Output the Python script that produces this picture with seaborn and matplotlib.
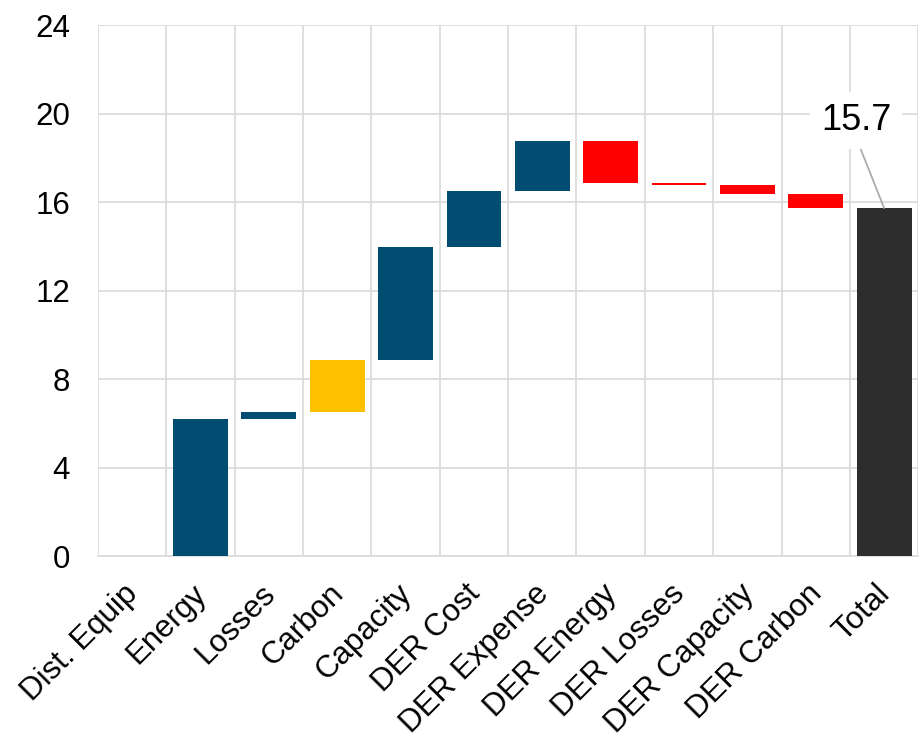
import numpy as np
import pandas as pd
import matplotlib
matplotlib.use("Agg")
import matplotlib.pyplot as plt
import matplotlib.transforms as mtransforms
import seaborn as sns

# waterfall steps
categories = ["Dist. Equip", "Energy", "Losses", "Carbon", "Capacity", "DER Cost",
              "DER Expense", "DER Energy", "DER Losses", "DER Capacity", "DER Carbon", "Total"]
deltas = [0.0, 6.2, 0.33, 2.33, 5.1, 2.52, 2.3, -1.9, -0.1, -0.4, -0.66]
bar_colors = ["#004d71", "#004d71", "#004d71", "#ffc000", "#004d71", "#004d71",
              "#004d71", "#ff0000", "#ff0000", "#ff0000", "#ff0000", "#2d2d2d"]
yticks = [0, 4, 8, 12, 16, 20, 24]

# cumulative start / end of each floating bar
ends = np.cumsum(deltas)
starts = ends - np.array(deltas)
total = ends[-1]
bottoms = list(np.minimum(starts, ends)) + [0.0]
heights = list(np.abs(deltas)) + [total]

df = pd.DataFrame({"Category": categories, "Height": heights})

sns.set_theme(style="white")
plt.rcParams["font.family"] = ["Liberation Sans", "DejaVu Sans"]

fig = plt.figure(figsize=(9.23, 7.39), dpi=100)
ax = fig.add_axes([0.106, 0.2476, 0.889, 0.7185])

sns.barplot(data=df, x="Category", y="Height", bottom=bottoms, errorbar=None,
            color="#004d71", saturation=1, width=0.8, ax=ax, zorder=3)
for patch, c in zip(ax.patches, bar_colors):
    patch.set_facecolor(c)
    patch.set_edgecolor("none")

# grid: horizontal at ticks, vertical at category boundaries
ax.set_ylim(0, 24)
ax.set_yticks(yticks)
ax.set_xlim(-0.5, len(categories) - 0.5)
ax.set_xticks(np.arange(-0.5, len(categories), 1.0), minor=True)
ax.grid(True, axis="y", which="major", color="#d9d9d9", linewidth=1.2, zorder=0)
ax.grid(True, axis="x", which="minor", color="#d9d9d9", linewidth=1.2, zorder=0)
ax.set_axisbelow(True)
ax.tick_params(axis="both", which="both", length=0, labelcolor="black")
ax.tick_params(axis="y", labelsize=22.5, pad=20)
ax.tick_params(axis="x", labelsize=22.5, pad=4)
plt.setp(ax.get_xticklabels(), rotation=45, ha="right", rotation_mode="anchor")
shift = mtransforms.ScaledTranslation(-0.09, -0.17, fig.dpi_scale_trans)
for lab in ax.get_xticklabels():
    lab.set_transform(lab.get_transform() + shift)
for s in ["top", "right", "left"]:
    ax.spines[s].set_visible(False)
ax.spines["bottom"].set_color("#d9d9d9")
ax.spines["bottom"].set_linewidth(1.2)
ax.set_xlabel("")
ax.set_ylabel("")

# total callout
ax.annotate(f"{total:.1f}", xy=(len(categories) - 1, total), xytext=(10.59, 19.7),
            ha="center", va="center", fontsize=26, color="black",
            bbox=dict(boxstyle="square,pad=0.3", fc="white", ec="none"),
            arrowprops=dict(arrowstyle="-", color="#a6a6a6", lw=1.2,
                            shrinkA=0, shrinkB=0, relpos=(0.5, 0.0)),
            zorder=5)

fig.savefig("out.png", dpi=100)
